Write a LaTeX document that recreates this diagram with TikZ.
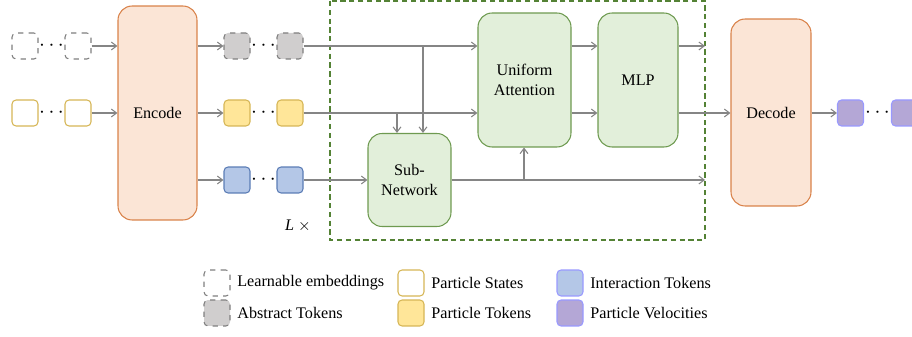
\documentclass[tikz,border=0pt]{standalone}
\usepackage{fontspec}
\setmainfont{Liberation Serif}
\usetikzlibrary{arrows.meta,positioning}
\definecolor{encF}{HTML}{FBE5D6}
\definecolor{encD}{HTML}{D9824A}
\definecolor{blkF}{HTML}{E2EFDA}
\definecolor{blkD}{HTML}{6E9A50}
\definecolor{frm}{HTML}{548235}
\definecolor{absF}{HTML}{D0CECE}
\definecolor{absD}{HTML}{7F7F7F}
\definecolor{ptcF}{HTML}{FFE699}
\definecolor{ptcD}{HTML}{D6B656}
\definecolor{intF}{HTML}{B4C7E7}
\definecolor{intD}{HTML}{5A7CB5}
\definecolor{velF}{HTML}{B4A7D6}
\definecolor{velD}{HTML}{9999FF}
\definecolor{arr}{HTML}{858585}
\tikzset{
  tok/.style={rectangle, rounded corners=2.3pt, minimum size=0.52cm, inner sep=0pt, line width=0.6pt},
  emb/.style={tok, draw=absD, dashed, fill=white},
  abs/.style={tok, draw=absD, dashed, fill=absF},
  pst/.style={tok, draw=ptcD, fill=white},
  ptk/.style={tok, draw=ptcD, fill=ptcF},
  itk/.style={tok, draw=intD, fill=intF},
  itl/.style={tok, draw=velD, fill=intF},
  vel/.style={tok, draw=velD, fill=velF},
  stage/.style={rectangle, rounded corners=8pt, draw=encD, fill=encF, line width=0.6pt, align=center},
  blk/.style={rectangle, rounded corners=8pt, draw=blkD, fill=blkF, line width=0.6pt, align=center},
  link/.style={-{Straight Barb[length=3pt,width=4.5pt]}, draw=arr, line width=0.6pt},
  dots/.style={inner sep=0pt, font=\large},
  lbl/.style={anchor=west, inner sep=0pt},
}

\begin{document}
\begin{tikzpicture}[x=0.02cm, y=-0.02cm, font=\fontsize{9.2}{11}\selectfont]
  \useasboundingbox (0,0) rectangle (912,337);
  % inputs
  \node[emb] (e1) at (25,46) {};
  \node[emb] (e2) at (78,46) {};
  \node[pst] (s1) at (25,113) {};
  \node[pst] (s2) at (78,113) {};
  \node[dots] (de) at (51.5,46) {$\cdots$};
  \node[dots] (ds) at (51.5,113) {$\cdots$};
  \node[stage, minimum width=1.58cm, minimum height=4.28cm] (enc) at (157.5,113) {Encode};
  % tokens
  \node[abs] (a1) at (237,46) {};
  \node[abs] (a2) at (290,46) {};
  \node[ptk] (p1) at (237,113) {};
  \node[ptk] (p2) at (290,113) {};
  \node[itk] (i1) at (237,180) {};
  \node[itk] (i2) at (290,180) {};
  \node[dots] (da) at (263.5,46) {$\cdots$};
  \node[dots] (dp) at (263.5,113) {$\cdots$};
  \node[dots] (di) at (263.5,180) {$\cdots$};
  % repeated block
  \draw[frm, line width=1pt, dash pattern=on 3pt off 2pt] (330,1) rectangle (705,240);
  \node (rep) at (298,226) {\textit{L} $\times$};
  \node[blk, minimum width=1.86cm, minimum height=2.68cm] (ua) at (524.5,80) {Uniform\\Attention};
  \node[blk, minimum width=1.6cm, minimum height=2.68cm] (mlp) at (638,80) {MLP};
  \node[blk, minimum width=1.66cm, minimum height=1.86cm] (sn) at (409.5,180) {Sub-\\Network};
  \node[stage, minimum width=1.6cm, minimum height=3.74cm] (dec) at (771,112.5) {Decode};
  \node[vel] (v1) at (850.5,113) {};
  \node[vel] (v2) at (904.5,113) {};
  \node[dots] (dv) at (877.5,113) {$\cdots$};
  \coordinate (j1) at (423,46);
  \coordinate (j2) at (397,113);
  \coordinate (j3) at (524,180);
  \coordinate (o1) at (705,46);
  \coordinate (o3) at (705,180);
  % connectors
  \draw[link] (e2.east) -- (e2 -| enc.west);
  \draw[link] (s2.east) -- (s2 -| enc.west);
  \foreach \t in {a1,p1,i1} \draw[link] (enc.east |- \t) -- (\t.west);
  \draw[link] (a2.east) -- (a2 -| ua.west);
  \draw[link] (p2.east) -- (p2 -| ua.west);
  \draw[link] (i2.east) -- (sn.west);
  \draw[link] (j1) -- (j1 |- sn.north);
  \draw[link] (j2) -- (j2 |- sn.north);
  \draw[link] (ua.east |- a2) -- (mlp.west |- a2);
  \draw[link] (ua.east |- p2) -- (mlp.west |- p2);
  \draw[link] (mlp.east |- o1) -- (o1);
  \draw[link] (mlp.east |- p2) -- (dec.west |- p2);
  \draw[link] (sn.east) -- (o3);
  \draw[link] (j3) -- (j3 |- ua.south);
  \draw[link] (dec.east |- v1) -- (v1.west);
  % legend
  \node[emb] (k1) at (217,283) {};
  \node[abs] (k2) at (217,313) {};
  \node[pst] (k3) at (411,283) {};
  \node[ptk] (k4) at (411,313) {};
  \node[itl] (k5) at (570,283) {};
  \node[vel] (k6) at (570,313) {};
  \node[lbl] (t1) at (237,283) {Learnable embeddings};
  \node[lbl] (t2) at (237,313) {Abstract Tokens};
  \node[lbl] (t3) at (431,283) {Particle States};
  \node[lbl] (t4) at (431,313) {Particle Tokens};
  \node[lbl] (t5) at (590,283) {Interaction Tokens};
  \node[lbl] (t6) at (590,313) {Particle Velocities};
\end{tikzpicture}
\end{document}
